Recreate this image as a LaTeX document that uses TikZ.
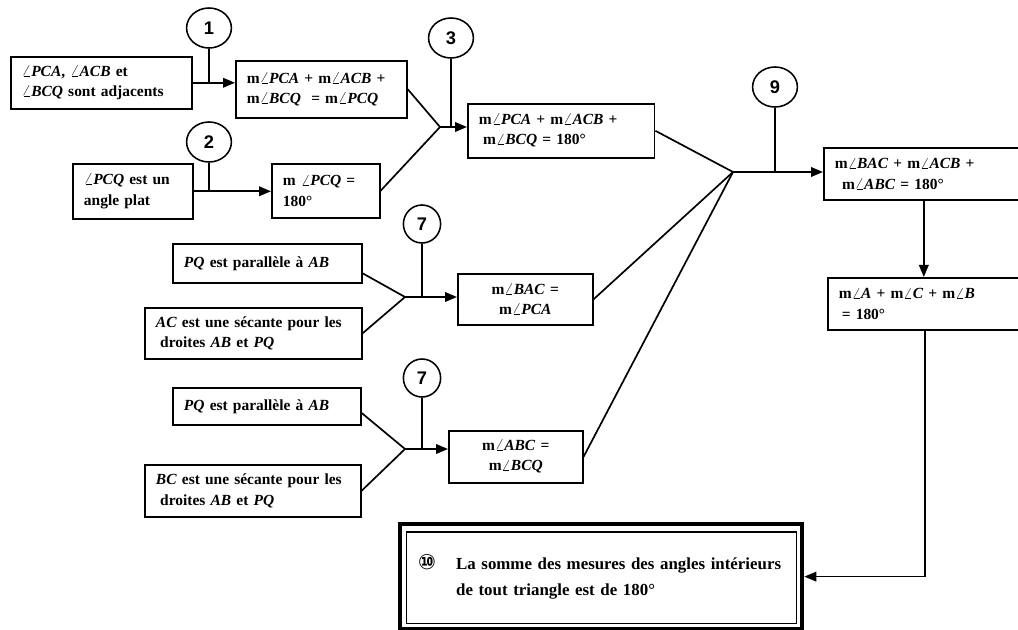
\documentclass[tikz,border=0pt]{standalone}
\usepackage{fontspec}
\setmainfont{Liberation Serif}
\newfontfamily\numfont{Liberation Sans}
\newfontfamily\symfont{DejaVu Sans}
\usetikzlibrary{arrows.meta,shapes.geometric}
\tikzset{
  fact/.style = {draw, line width=1.1pt, anchor=north west, align=left,
    inner xsep=0.28cm, inner ysep=0pt,
    font=\bfseries\fontsize{11}{14.5}\selectfont},
  refnum/.style = {draw, ellipse, line width=1.1pt, inner sep=0pt,
    minimum width=1.12cm, minimum height=1cm,
    font=\numfont\bfseries\fontsize{13}{13}\selectfont},
  small refnum/.style = {refnum, minimum width=0.93cm, minimum height=0.95cm},
  link/.style = {line width=1.2pt},
  arrow/.style = {link, -{Triangle[length=0.3cm,width=0.24cm]}}
}
\newcommand\ang[1]{$\angle$\textit{#1}}

\begin{document}
\begin{tikzpicture}[x=0.025cm,y=-0.025cm]
  \useasboundingbox[fill=white] (0,0) rectangle (1018,630);

  % statements
  \node[fact,text width=3.97cm,minimum height=1.3cm] (adj) at (10,56)
    {\ang{PCA}, \ang{ACB} et\\\ang{BCQ} sont adjacents};
  \node[fact,text width=3.72cm,minimum height=1.425cm] (sumPCQ) at (235,60)
    {m\ang{PCA} + m\ang{ACB} +\\m\ang{BCQ} \ = m\ang{PCQ}};
  \node[fact,text width=2.44cm,minimum height=1.375cm] (flat) at (72,163)
    {\ang{PCQ} est un\\angle plat};
  \node[fact,text width=2.14cm,minimum height=1.35cm] (PCQflat) at (271,163)
    {m \ang{PCQ} =\\180°};
  \node[fact,text width=4.11cm,minimum height=1.35cm] (sumflat) at (467,103)
    {m\ang{PCA} + m\ang{ACB} +\\\hspace*{3pt}m\ang{BCQ} = 180°};
  \node[fact,text width=4.44cm,minimum height=1.3cm] (total) at (823,147)
    {m\ang{BAC} + m\ang{ACB} +\\\hspace*{5pt}m\ang{ABC} = 180°};
  \node[fact,text width=4.29cm,minimum height=1.3cm] (letters) at (827,277)
    {m\ang{A} + m\ang{C} + m\ang{B}\\\hspace*{2pt}= 180°};
  \node[fact,text width=4.165cm,minimum height=0.975cm] (par1) at (172,243)
    {\textit{PQ} est parallèle à \textit{AB}};
  \node[fact,text width=4.865cm,minimum height=1.275cm] (sec1) at (144,307)
    {\textit{AC} est une sécante pour les\\\hspace*{3pt}droites \textit{AB} et \textit{PQ}};
  \node[fact,align=center,text width=2.815cm,minimum height=1.275cm] (BAC) at (457,273)
    {m\ang{BAC} =\\m\ang{PCA}};
  \node[fact,text width=4.14cm,minimum height=0.925cm] (par2) at (172,387)
    {\textit{PQ} est parallèle à \textit{AB}};
  \node[fact,text width=4.84cm,minimum height=1.3cm] (sec2) at (144,464)
    {\textit{BC} est une sécante pour les\\\hspace*{3pt}droites \textit{AB} et \textit{PQ}};
  \node[fact,align=center,text width=2.79cm,minimum height=1.3cm] (ABC) at (448,430)
    {m\ang{ABC} =\\m\ang{BCQ}};
  \node[draw,line width=3pt,anchor=north west,align=left,text width=9.15cm,
    inner xsep=0.45cm,minimum height=2.625cm,
    font=\bfseries\fontsize{12}{18.5}\selectfont] (concl) at (398,522)
    {\makebox[0.95cm][l]{\symfont\fontsize{15}{15}\selectfont ⑩}La somme des mesures des angles intérieurs\\
     \hspace*{0.95cm}de tout triangle est de 180°};
  \draw[line width=0.9pt] ([xshift=0.22cm,yshift=-0.25cm]concl.north west)
    rectangle ([xshift=-0.2cm,yshift=0.2cm]concl.south east);

  % reasons
  \node[refnum] (r1) at (209,28) {1};
  \node[refnum] (r2) at (209,142) {2};
  \node[refnum] (r3) at (451,38) {3};
  \node[refnum] (r9) at (775,87) {9};
  \node[small refnum] (r7a) at (422,224) {7};
  \node[small refnum] (r7b) at (422,378) {7};

  \coordinate (m3) at (440,127);
  \coordinate (m9) at (733,172);
  \coordinate (ma) at (405,297);
  \coordinate (mb) at (405,449);

  \draw[arrow] (adj.east) -- (adj.east -| sumPCQ.west);
  \draw[link] (r1.south) -- (r1.south |- adj.east);
  \draw[arrow] (flat.east) -- (flat.east -| PCQflat.west);
  \draw[link] (r2.south) -- (r2.south |- flat.east);

  \draw[link] (sumPCQ.east) -- (m3) -- (PCQflat.east);
  \draw[arrow] (m3) -- (m3 -| sumflat.west);
  \draw[link] (r3.south) -- (r3.south |- m3);

  \draw[link] (par1.-6) -- (ma) -- (sec1.east);
  \draw[arrow] (ma) -- (ma -| BAC.west);
  \draw[link] (r7a.south) -- (r7a.south |- ma);

  \draw[link] (par2.-4) -- (mb) -- (sec2.east);
  \draw[arrow] (mb) -- (mb -| ABC.west);
  \draw[link] (r7b.south) -- (r7b.south |- mb);

  \draw[link] (sumflat.east) -- (m9);
  \draw[link] (BAC.east) -- (m9);
  \draw[link] (ABC.east) -- (m9);
  \draw[arrow] (m9) -- (m9 -| total.west);
  \draw[link] (r9.south) -- (r9.south |- m9);

  \draw[arrow] (total.south) -- (total.south |- letters.north);
  \draw[arrow] (letters.south) |- (concl.east);
\end{tikzpicture}
\end{document}
